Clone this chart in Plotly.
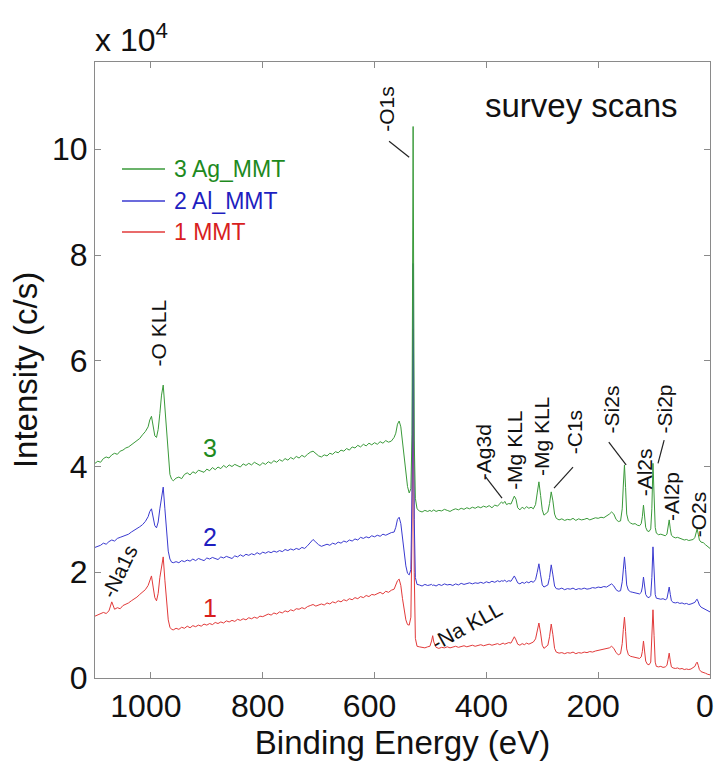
import plotly.graph_objects as go

# ---- XPS survey spectra (intensity in units of 1e4 counts/s) ----
energy_ev = [
    # high binding-energy tail with Na1s
    1100, 1095, 1090, 1085, 1080, 1075, 1070, 1065, 1060, 1055,
    1050, 1045, 1040, 1035, 1030, 1025, 1020, 1015, 1010,
    # O KLL Auger doublet
    1005, 1002, 999, 996, 993, 990, 987, 984, 981, 978, 975, 972, 969, 966, 963, 960,
    # inelastic background
    955, 950, 945, 940, 935, 930, 925, 920, 915, 910,
    905, 900, 895, 890, 885, 880, 875, 870, 865, 860,
    855, 850, 845, 840, 835, 830, 825, 820, 815, 810,
    805, 800, 795, 790, 785, 780, 775, 770, 765, 760,
    755, 750, 745, 740, 735, 730, 725, 720, 715, 710,
    705, 700, 695, 690, 685, 680, 675, 670, 665, 660,
    655, 650, 645, 640, 635, 630, 625, 620, 615, 610,
    605, 600, 595, 590, 585, 580, 575, 570,
    # O1s loss feature and main line
    565, 562, 559, 556, 553, 550, 547, 544, 541, 538, 535, 533, 531, 529, 527, 524,
    # valence-side region: Na KLL, Ag3d, Mg KLL, C1s, Si2s, Al2s, Si2p, Al2p, O2s
    520, 515, 510, 505, 501, 498, 496, 494, 490, 485,
    480, 475, 470, 465, 460, 455, 450, 445, 440, 435,
    430, 425, 420, 415, 410, 405, 400, 395, 390, 385,
    380, 376, 373, 370, 367, 364, 360, 356, 353, 350,
    347, 344, 340, 336, 332, 328, 324, 320, 316, 312,
    309, 306, 303, 300, 297, 294, 290, 287, 284, 281,
    278, 275, 270, 265, 260, 255, 250, 245, 240, 235,
    230, 225, 220, 215, 210, 205, 200, 195, 190, 185,
    180, 176, 172, 168, 164, 160, 157, 155, 153, 151,
    149, 146, 142, 138, 134, 130, 126, 123, 121, 119,
    117, 115, 112, 109, 106, 104, 102, 100, 98, 96,
    92, 88, 84, 80, 77, 75, 73, 71, 69, 66,
    62, 58, 54, 50, 46, 42, 38, 34, 30, 27,
    25, 23, 21, 19, 16, 12, 8, 4, 0,
]

ag_mmt = [
    4.06, 4.10, 4.08, 4.15, 4.18, 4.16, 4.22, 4.25, 4.23, 4.29,
    4.31, 4.35, 4.37, 4.41, 4.44, 4.48, 4.53, 4.60, 4.66,
    4.75, 4.88, 4.95, 4.75, 4.58, 4.55, 4.70, 5.00, 5.35, 5.54, 5.10, 4.55, 4.10, 3.85, 3.76, 3.73,
    3.78, 3.80, 3.77, 3.85, 3.88, 3.84, 3.90, 3.87, 3.93, 3.91,
    3.89, 3.95, 3.92, 3.98, 3.94, 3.99, 3.96, 4.02, 3.98, 4.03,
    4.00, 4.04, 4.01, 3.99, 4.05, 4.02, 4.06, 4.03, 4.08, 4.05,
    4.02, 4.07, 4.04, 4.09, 4.06, 4.11, 4.08, 4.13, 4.10, 4.15,
    4.12, 4.17, 4.14, 4.19, 4.16, 4.21, 4.18, 4.23, 4.27, 4.29,
    4.24, 4.20, 4.18, 4.22, 4.20, 4.25, 4.23, 4.28, 4.26, 4.31,
    4.29, 4.34, 4.31, 4.37, 4.35, 4.40, 4.37, 4.42, 4.39, 4.44,
    4.41, 4.45, 4.42, 4.47, 4.44, 4.49, 4.46, 4.48,
    4.55, 4.63, 4.80, 4.86, 4.75, 4.45, 4.15, 3.85, 3.62, 3.50, 3.58, 4.60, 10.43, 4.50, 3.40, 3.20,
    3.16, 3.14, 3.17, 3.15, 3.17, 3.15, 3.16, 3.18, 3.15, 3.17,
    3.16, 3.19, 3.17, 3.15, 3.18, 3.20, 3.18, 3.21, 3.19, 3.22,
    3.20, 3.23, 3.21, 3.24, 3.22, 3.25, 3.23, 3.26, 3.22, 3.27,
    3.25, 3.29, 3.33, 3.30, 3.34, 3.28, 3.30, 3.29, 3.36, 3.44,
    3.38, 3.22, 3.18, 3.23, 3.20, 3.24, 3.21, 3.23, 3.20, 3.28,
    3.50, 3.71, 3.45, 3.18, 3.08, 3.10, 3.14, 3.30, 3.52, 3.35,
    3.10, 3.02, 2.99, 3.01, 2.98, 3.00, 2.99, 3.02, 2.98, 3.01,
    2.99, 3.00, 3.02, 2.99, 3.01, 3.03, 3.02, 3.04, 3.03, 3.06,
    3.10, 3.14, 3.10, 3.00, 2.96, 2.97, 3.20, 3.65, 4.03, 3.60,
    3.10, 2.97, 2.93, 2.91, 2.92, 2.89, 2.88, 2.92, 3.05, 3.27,
    3.05, 2.85, 2.78, 2.77, 2.82, 3.20, 4.06, 3.40, 2.85, 2.74,
    2.71, 2.72, 2.70, 2.69, 2.72, 2.84, 2.99, 2.82, 2.70, 2.67,
    2.65, 2.66, 2.64, 2.63, 2.61, 2.62, 2.60, 2.61, 2.62, 2.66,
    2.75, 2.82, 2.72, 2.61, 2.57, 2.56, 2.52, 2.49, 2.45,
]

al_mmt = [
    2.47, 2.49, 2.51, 2.55, 2.53, 2.58, 2.61, 2.59, 2.64, 2.66,
    2.68, 2.71, 2.72, 2.76, 2.79, 2.83, 2.86, 2.90, 2.96,
    3.05, 3.15, 3.20, 3.00, 2.88, 2.84, 2.95, 3.20, 3.45, 3.61, 3.20, 2.75, 2.40, 2.25, 2.19, 2.18,
    2.20, 2.18, 2.22, 2.20, 2.23, 2.21, 2.25, 2.22, 2.26, 2.24,
    2.22, 2.27, 2.25, 2.28, 2.26, 2.24, 2.29, 2.27, 2.30, 2.28,
    2.26, 2.31, 2.29, 2.33, 2.30, 2.34, 2.32, 2.35, 2.33, 2.37,
    2.34, 2.38, 2.36, 2.39, 2.37, 2.40, 2.38, 2.41, 2.39, 2.43,
    2.41, 2.44, 2.42, 2.45, 2.43, 2.47, 2.45, 2.50, 2.56, 2.62,
    2.57, 2.52, 2.49, 2.51, 2.53, 2.51, 2.55, 2.53, 2.57, 2.55,
    2.59, 2.57, 2.61, 2.59, 2.63, 2.61, 2.66, 2.64, 2.67, 2.65,
    2.69, 2.67, 2.70, 2.68, 2.72, 2.70, 2.73, 2.75,
    2.76, 2.85, 3.00, 3.04, 2.92, 2.62, 2.35, 2.12, 1.98, 1.95, 2.05, 3.50, 7.84, 3.00, 1.90, 1.77,
    1.76, 1.74, 1.77, 1.75, 1.76, 1.77, 1.75, 1.76, 1.74, 1.77,
    1.75, 1.78, 1.76, 1.77, 1.75, 1.78, 1.76, 1.79, 1.77, 1.78,
    1.80, 1.78, 1.80, 1.79, 1.81, 1.79, 1.82, 1.80, 1.83, 1.81,
    1.84, 1.82, 1.84, 1.83, 1.85, 1.82, 1.84, 1.83, 1.88, 1.93,
    1.87, 1.80, 1.78, 1.81, 1.79, 1.82, 1.80, 1.83, 1.81, 1.86,
    2.00, 2.16, 1.95, 1.76, 1.72, 1.74, 1.76, 1.90, 2.14, 1.95,
    1.74, 1.69, 1.68, 1.70, 1.67, 1.69, 1.68, 1.70, 1.67, 1.69,
    1.68, 1.70, 1.68, 1.69, 1.71, 1.70, 1.72, 1.71, 1.73, 1.72,
    1.75, 1.78, 1.74, 1.67, 1.64, 1.65, 1.82, 2.08, 2.29, 2.05,
    1.76, 1.66, 1.63, 1.62, 1.61, 1.60, 1.59, 1.62, 1.72, 1.91,
    1.74, 1.58, 1.53, 1.52, 1.56, 1.90, 2.48, 2.00, 1.58, 1.51,
    1.50, 1.49, 1.50, 1.48, 1.50, 1.60, 1.72, 1.58, 1.46, 1.43,
    1.42, 1.43, 1.41, 1.42, 1.40, 1.41, 1.39, 1.40, 1.41, 1.43,
    1.47, 1.49, 1.44, 1.38, 1.34, 1.32, 1.29, 1.27, 1.25,
]

mmt = [
    1.17, 1.19, 1.21, 1.24, 1.22, 1.27, 1.44, 1.30, 1.33, 1.31,
    1.37, 1.39, 1.42, 1.46, 1.49, 1.53, 1.58, 1.62, 1.67,
    1.75, 1.85, 1.93, 1.72, 1.52, 1.46, 1.60, 1.90, 2.15, 2.29, 1.85, 1.40, 1.10, 0.96, 0.92, 0.91,
    0.94, 0.92, 0.96, 0.94, 0.98, 0.95, 0.99, 0.97, 1.00, 0.98,
    1.02, 1.00, 1.03, 1.01, 1.05, 1.03, 1.06, 1.04, 1.08, 1.06,
    1.09, 1.07, 1.11, 1.09, 1.12, 1.10, 1.14, 1.12, 1.15, 1.13,
    1.17, 1.16, 1.19, 1.21, 1.19, 1.23, 1.21, 1.25, 1.23, 1.27,
    1.25, 1.29, 1.27, 1.31, 1.30, 1.33, 1.31, 1.35, 1.37, 1.39,
    1.36, 1.38, 1.40, 1.38, 1.42, 1.40, 1.44, 1.42, 1.46, 1.44,
    1.48, 1.46, 1.50, 1.48, 1.52, 1.50, 1.54, 1.52, 1.56, 1.54,
    1.58, 1.57, 1.60, 1.62, 1.59, 1.64, 1.62, 1.66,
    1.68, 1.76, 1.84, 1.87, 1.75, 1.50, 1.28, 1.10, 1.01, 1.00, 1.15, 2.80, 6.60, 2.00, 0.75, 0.60,
    0.59, 0.58, 0.57, 0.59, 0.60, 0.70, 0.80, 0.68, 0.58, 0.56,
    0.58, 0.57, 0.59, 0.57, 0.58, 0.60, 0.58, 0.59, 0.61, 0.59,
    0.60, 0.62, 0.60, 0.61, 0.63, 0.61, 0.62, 0.64, 0.62, 0.63,
    0.65, 0.63, 0.64, 0.66, 0.64, 0.65, 0.67, 0.66, 0.72, 0.78,
    0.72, 0.64, 0.62, 0.65, 0.63, 0.66, 0.64, 0.66, 0.68, 0.74,
    0.88, 1.04, 0.85, 0.62, 0.56, 0.58, 0.62, 0.78, 1.02, 0.82,
    0.56, 0.49, 0.47, 0.48, 0.46, 0.48, 0.47, 0.49, 0.46, 0.48,
    0.47, 0.49, 0.48, 0.50, 0.49, 0.51, 0.52, 0.53, 0.54, 0.55,
    0.57, 0.60, 0.56, 0.48, 0.44, 0.46, 0.65, 0.92, 1.15, 0.88,
    0.55, 0.44, 0.41, 0.40, 0.39, 0.38, 0.37, 0.40, 0.50, 0.70,
    0.50, 0.32, 0.26, 0.25, 0.30, 0.70, 1.29, 0.80, 0.30, 0.22,
    0.21, 0.22, 0.20, 0.21, 0.24, 0.35, 0.47, 0.32, 0.21, 0.19,
    0.18, 0.19, 0.17, 0.18, 0.16, 0.17, 0.16, 0.17, 0.19, 0.22,
    0.27, 0.30, 0.24, 0.16, 0.12, 0.11, 0.09, 0.07, 0.06,
]

assert len(energy_ev) == len(ag_mmt) == len(al_mmt) == len(mmt)

series_names = ["1 MMT", "2 Al_MMT", "3 Ag_MMT"]
series_tags = ["1", "2", "3"]
line_colors = ["#e23a3a", "#3a3ad0", "#3a9a3a"]
text_colors = ["#d81e1e", "#1e1ec0", "#1e8a1e"]
x_ticks = [1000, 800, 600, 400, 200, 0]
y_ticks = [0, 2, 4, 6, 8, 10]

# peak labels: text, x (eV), y (1e4 c/s), rotation
peak_labels = [
    ("-O1s", 580, 10.76, -90),
    ("-O KLL", 987, 6.52, -90),
    ("-Na1s", 1057, 2.02, -64),
    ("-Na KLL", 435, 1.00, -29),
    ("-Ag3d", 406, 4.27, -90),
    ("-Mg KLL", 351, 4.31, -90),
    ("-Mg KLL", 301, 4.57, -90),
    ("-C1s", 243, 4.65, -90),
    ("-Si2s", 177, 5.08, -90),
    ("-Al2s", 118, 3.89, -90),
    ("-Si2p", 82, 5.08, -90),
    ("-Al2p", 70, 3.44, -90),
    ("-O2s", 21, 3.10, -90),
]
# leader lines from label to peak: (x0, y0, x1, y1)
leader_lines = [
    (574, 10.15, 538, 9.85),
    (401, 3.80, 372, 3.40),
    (245, 3.99, 279, 3.59),
    (181, 4.46, 150, 4.03),
    (82, 4.50, 93, 4.06),
]

W, H = 716, 763
ML, MR, MT, MB = 95, 6, 62, 85
FONT = "Liberation Sans, Arial, Helvetica, sans-serif"


def paper_x(px):
    return (px - ML) / (W - ML - MR)


def paper_y(py):
    return (H - MB - py) / (H - MT - MB)


fig = go.Figure()
for name, vals, col in zip(series_names, [mmt, al_mmt, ag_mmt], line_colors):
    fig.add_trace(go.Scatter(
        x=energy_ev, y=vals, mode="lines", name=name,
        line=dict(color=col, width=1), showlegend=False,
        hoverinfo="skip",
    ))

annotations = []
shapes = []

# hand-placed legend block (top entry = series 3)
legend_rows = [169, 201, 232]
for row_py, name, lc, tc in zip(legend_rows, series_names[::-1], line_colors[::-1], text_colors[::-1]):
    shapes.append(dict(type="line", xref="paper", yref="paper",
                       x0=paper_x(122), x1=paper_x(165), y0=paper_y(row_py), y1=paper_y(row_py),
                       line=dict(color=lc, width=1.5)))
    annotations.append(dict(text=name, xref="paper", yref="paper",
                            x=paper_x(172), y=paper_y(row_py), xanchor="left", yanchor="middle",
                            showarrow=False, font=dict(family=FONT, size=23, color=tc)))

# curve numbers
for tag, yv, tc in zip(series_tags, [1.32, 2.67, 4.35], text_colors):
    annotations.append(dict(text=tag, x=894, y=yv, xref="x", yref="y", showarrow=False,
                            xanchor="center", yanchor="middle",
                            font=dict(family=FONT, size=25, color=tc)))

for txt, xv, yv, ang in peak_labels:
    annotations.append(dict(text=txt, x=xv, y=yv, xref="x", yref="y", showarrow=False,
                            xanchor="center", yanchor="middle",
                            textangle=ang, font=dict(family=FONT, size=21, color="#111111")))

for x0, y0, x1, y1 in leader_lines:
    shapes.append(dict(type="line", xref="x", yref="y", x0=x0, y0=y0, x1=x1, y1=y1,
                       line=dict(color="#222222", width=1.2)))

annotations.append(dict(text="survey scans", x=paper_x(581), y=paper_y(106),
                        xref="paper", yref="paper", xanchor="center", yanchor="middle",
                        showarrow=False,
                        font=dict(family=FONT, size=33, color="#111111")))
annotations.append(dict(text="x 10<sup>4</sup>", x=paper_x(93), y=paper_y(38),
                        xref="paper", yref="paper", xanchor="left", yanchor="middle",
                        showarrow=False, font=dict(family=FONT, size=32, color="#111111")))

axis_common = dict(
    showline=True, linecolor="#8a8a8a", linewidth=1, mirror="ticks",
    ticks="inside", ticklen=6, tickcolor="#8a8a8a", tickwidth=1,
    showgrid=False, zeroline=False, ticklabeloverflow="allow", automargin=False,
    tickfont=dict(family=FONT, size=32, color="#111111"),
)

fig.update_layout(
    width=W, height=H,
    margin=dict(l=ML, r=MR, t=MT, b=MB, pad=0),
    paper_bgcolor="white", plot_bgcolor="white",
    xaxis=dict(range=[1100, 0], tickvals=x_ticks, ticklabelshift=5,
               title=dict(text="Binding Energy (eV)", standoff=6,
                          font=dict(family=FONT, size=33, color="#111111")),
               **axis_common),
    yaxis=dict(range=[0, 11.65], tickvals=y_ticks,
               title=dict(text="Intensity (c/s)", standoff=4,
                          font=dict(family=FONT, size=33, color="#111111")),
               **axis_common),
    annotations=annotations,
    shapes=shapes,
    showlegend=False,
)

fig.write_html("out.html")
